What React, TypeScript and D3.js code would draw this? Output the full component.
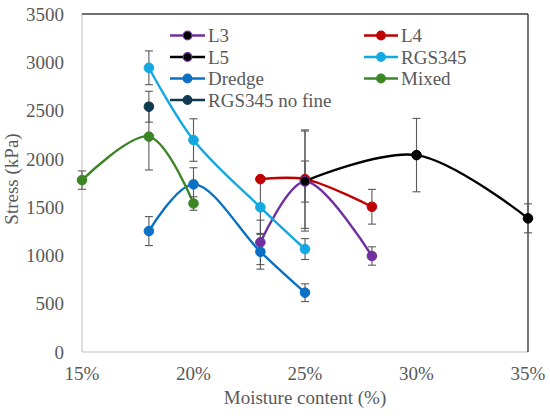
import React from "react";
import * as d3 from "d3";

const xTicks = [15, 20, 25, 30, 35];
const yTicks = [0, 500, 1000, 1500, 2000, 2500, 3000, 3500];

const l3X = [23, 25, 28];
const l3Y = [1135, 1765, 994];
const l3E = [230, 213, 95];

const l4X = [23, 25, 28];
const l4Y = [1790, 1790, 1504];
const l4E = [0, 510, 180];

const l5X = [25, 30, 35];
const l5Y = [1770, 2039, 1384];
const l5E = [518, 380, 150];

const rgsX = [18, 20, 23, 25];
const rgsY = [2943, 2195, 1498, 1066];
const rgsE = [175, 220, 270, 108];

const dredgeX = [18, 20, 23, 25];
const dredgeY = [1252, 1736, 1038, 614];
const dredgeE = [150, 172, 180, 92];

const mixedX = [15, 18, 20];
const mixedY = [1780, 2230, 1538];
const mixedE = [95, 345, 70];

const noFineX = [18];
const noFineY = [2540];
const noFineE = [160];

type Series = {
  name: string;
  xs: number[];
  ys: number[];
  es: number[];
  color: string;
  fill: string;
  legendFill: string;
  legendStroke: string;
};

const series: Series[] = [
  { name: "L3", xs: l3X, ys: l3Y, es: l3E, color: "#7030A0", fill: "#7030A0", legendFill: "#000000", legendStroke: "#7030A0" },
  { name: "L4", xs: l4X, ys: l4Y, es: l4E, color: "#C00000", fill: "#C00000", legendFill: "#C00000", legendStroke: "#C00000" },
  { name: "L5", xs: l5X, ys: l5Y, es: l5E, color: "#000000", fill: "#000000", legendFill: "#000000", legendStroke: "#7030A0" },
  { name: "RGS345", xs: rgsX, ys: rgsY, es: rgsE, color: "#13A8E2", fill: "#13A8E2", legendFill: "#13A8E2", legendStroke: "#13A8E2" },
  { name: "Dredge", xs: dredgeX, ys: dredgeY, es: dredgeE, color: "#0A70C4", fill: "#0A70C4", legendFill: "#0A70C4", legendStroke: "#0A70C4" },
  { name: "Mixed", xs: mixedX, ys: mixedY, es: mixedE, color: "#3C8524", fill: "#3C8524", legendFill: "#3C8524", legendStroke: "#3C8524" },
  { name: "RGS345 no fine", xs: noFineX, ys: noFineY, es: noFineE, color: "#0F3A4F", fill: "#0F3A4F", legendFill: "#0F3A4F", legendStroke: "#0F3A4F" },
];

const W = 550;
const H = 416;
const left = 82;
const right = 528;
const top = 14;
const bottom = 352;

const FONT = '"Liberation Serif", "Times New Roman", Times, serif';
const TEXT = "#595959";

export default function App() {
  const x = d3.scaleLinear().domain([15, 35]).range([left, right]);
  const y = d3.scaleLinear().domain([0, 3500]).range([bottom, top]);
  const line = d3
    .line<[number, number]>()
    .x((d) => x(d[0]))
    .y((d) => y(d[1]))
    .curve(d3.curveCatmullRom.alpha(0.5));

  const r = 4.8;
  const cap = 4;

  const legendCols = [
    { lineX0: 170, lineX1: 205, textX: 208 },
    { lineX0: 364, lineX1: 398, textX: 401 },
  ];
  const legendRows = [35.5, 57, 78.5, 100];
  const ts = { fontFamily: FONT, fontSize: "19px" };

  return (
    <svg
      width={W}
      height={H}
      style={{ position: "absolute", left: 0, top: 0, background: "#fff", fontFamily: FONT }}
    >
      <rect x={0} y={0} width={W} height={H} fill="#fff" />
      {/* axes */}
      <line x1={left} y1={top} x2={left} y2={bottom} stroke="#BFBFBF" strokeWidth={1} />
      <line x1={left} y1={bottom} x2={right} y2={bottom} stroke="#BFBFBF" strokeWidth={1} />
      <line x1={left} y1={top} x2={right} y2={top} stroke="#404040" strokeWidth={1.6} />
      <line x1={right} y1={top} x2={right} y2={bottom} stroke="#1a1a1a" strokeWidth={1.2} />

      {yTicks.map((t) => (
        <text key={"y" + t} x={64} y={y(t)} dy="0.35em" textAnchor="end" style={ts} fill={TEXT}>
          {t}
        </text>
      ))}
      {xTicks.map((t) => (
        <text key={"x" + t} x={x(t)} y={380} textAnchor="middle" style={ts} fill={TEXT}>
          {t + "%"}
        </text>
      ))}
      <text x={(left + right) / 2} y={404} textAnchor="middle" style={ts} fill={TEXT}>
        Moisture content (%)
      </text>
      <text
        transform={`translate(18, 179) rotate(-90)`}
        textAnchor="middle"
        style={ts}
        fill={TEXT}
      >
        Stress (kPa)
      </text>

      {/* lines */}
      {series.map((s) =>
        s.xs.length > 1 ? (
          <path
            key={"l" + s.name}
            d={line(s.xs.map((v, i) => [v, s.ys[i]] as [number, number])) || ""}
            fill="none"
            stroke={s.color}
            strokeWidth={2.4}
          />
        ) : null
      )}

      {/* error bars */}
      {series.map((s) =>
        s.xs.map((v, i) => {
          const cx = x(v);
          const y0 = y(s.ys[i] - s.es[i]);
          const y1 = y(s.ys[i] + s.es[i]);
          return (
            <g key={"e" + s.name + i} stroke="#595959" strokeWidth={1.1}>
              <line x1={cx} x2={cx} y1={y0} y2={y1} />
              <line x1={cx - cap} x2={cx + cap} y1={y0} y2={y0} />
              <line x1={cx - cap} x2={cx + cap} y1={y1} y2={y1} />
            </g>
          );
        })
      )}

      {/* markers */}
      {series.map((s) =>
        s.xs.map((v, i) => (
          <circle
            key={"m" + s.name + i}
            cx={x(v)}
            cy={y(s.ys[i])}
            r={r}
            fill={s.fill}
            stroke={s.name === "L5" && v === 25 ? "#7030A0" : s.color}
            strokeWidth={1}
          />
        ))
      )}

      {/* legend */}
      {series.map((s, i) => {
        const col = legendCols[i % 2];
        const row = legendRows[Math.floor(i / 2)];
        const mx = (col.lineX0 + col.lineX1) / 2;
        return (
          <g key={"lg" + s.name}>
            <line x1={col.lineX0} x2={col.lineX1} y1={row} y2={row} stroke={s.color} strokeWidth={2.4} />
            <circle cx={mx} cy={row} r={4.3} fill={s.legendFill} stroke={s.legendStroke} strokeWidth={1.2} />
            <text x={col.textX} y={row} dy="0.35em" style={ts} fill={TEXT}>
              {s.name}
            </text>
          </g>
        );
      })}
    </svg>
  );
}
